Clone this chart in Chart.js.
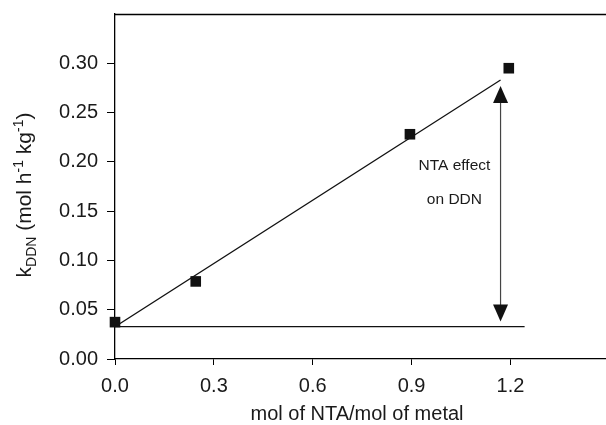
<!DOCTYPE html>
<html>
<head>
<meta charset="utf-8">
<script src="https://cdn.jsdelivr.net/npm/chart.js@4.4.1/dist/chart.umd.min.js"></script>
<style>
  html, body { margin: 0; padding: 0; background: #fff; }
  #wrap { width: 606px; height: 425px; position: relative; }
</style>
</head>
<body>
<div id="wrap"><canvas id="c" width="606" height="425"></canvas></div>
<script>
// Measured rate constants for DDN vs. NTA/metal molar ratio
const ntaRatio = [0.0, 0.245, 0.895, 1.195];
const kDDN = [0.0374, 0.0787, 0.228, 0.295];

// Linear fit through the measurements
const fitX = [0.0, 1.17];
const fitY = [0.0328, 0.283];

// Reference level (no NTA) drawn as a horizontal line
const baseX = [0.0, 1.243];
const baseY = [0.0328, 0.0328];

// Double arrow showing the NTA effect
const arrowX = 1.17;
const arrowTopY = 0.277;
const arrowBottomY = 0.038;
const noteLines = ["NTA effect", "on DDN"];
const noteX = [1.03, 1.03];
const noteY = [0.1964, 0.1618];

// Axis ranges and ticks
const xMin = 0, xMax = 1.49, xStep = 0.3, xLastTick = 1.2;
const yMin = 0, yMax = 0.35, yStep = 0.05, yLastTick = 0.30;

const xTitle = "mol of NTA/mol of metal";
const yTitleParts = [
  { t: "k", kind: "n" },
  { t: "DDN", kind: "sub" },
  { t: " (mol h", kind: "n" },
  { t: "-1", kind: "sup" },
  { t: " kg", kind: "n" },
  { t: "-1", kind: "sup" },
  { t: ")", kind: "n" }
];

const FONT = "'Liberation Sans', Arial, Helvetica, sans-serif";
const INK = "#1a1a1a";

const toXY = (xs, ys) => xs.map((x, i) => ({ x: x, y: ys[i] }));

const decorations = {
  id: "decorations",
  afterDatasetsDraw(chart) {
    const ctx = chart.ctx;
    const xs = chart.scales.x, ys = chart.scales.y;
    const area = chart.chartArea;
    ctx.save();

    // top frame line
    ctx.strokeStyle = "#000";
    ctx.lineWidth = 1.4;
    ctx.beginPath();
    ctx.moveTo(area.left, area.top + 0.5);
    ctx.lineTo(chart.width, area.top + 0.5);
    ctx.stroke();

    // double-headed arrow
    const ax = xs.getPixelForValue(arrowX);
    const yT = ys.getPixelForValue(arrowTopY);
    const yB = ys.getPixelForValue(arrowBottomY);
    const headL = 17, headW = 7.5;
    ctx.strokeStyle = "#444";
    ctx.lineWidth = 1.2;
    ctx.beginPath();
    ctx.moveTo(ax, yT + headL - 1);
    ctx.lineTo(ax, yB - headL + 1);
    ctx.stroke();
    ctx.fillStyle = "#111";
    ctx.beginPath();
    ctx.moveTo(ax, yT);
    ctx.lineTo(ax - headW, yT + headL);
    ctx.lineTo(ax + headW, yT + headL);
    ctx.closePath();
    ctx.fill();
    ctx.beginPath();
    ctx.moveTo(ax, yB);
    ctx.lineTo(ax - headW, yB - headL);
    ctx.lineTo(ax + headW, yB - headL);
    ctx.closePath();
    ctx.fill();

    // annotation text
    ctx.fillStyle = INK;
    ctx.font = "15.5px " + FONT;
    ctx.textAlign = "center";
    ctx.textBaseline = "middle";
    noteLines.forEach((s, i) => {
      ctx.fillText(s, xs.getPixelForValue(noteX[i]), ys.getPixelForValue(noteY[i]));
    });

    // x axis title
    ctx.font = "20px " + FONT;
    ctx.textAlign = "center";
    ctx.textBaseline = "middle";
    ctx.fillText(xTitle, 357, 414);

    // y axis title with sub/superscripts, rotated
    const mainF = "21px " + FONT, smallF = "14px " + FONT;
    let total = 0;
    yTitleParts.forEach(p => {
      ctx.font = p.kind === "n" ? mainF : smallF;
      p.w = ctx.measureText(p.t).width;
      total += p.w;
    });
    ctx.translate(31, 195 + total / 2);
    ctx.rotate(-Math.PI / 2);
    ctx.textAlign = "left";
    ctx.textBaseline = "alphabetic";
    let cx = 0;
    yTitleParts.forEach(p => {
      ctx.font = p.kind === "n" ? mainF : smallF;
      const dy = p.kind === "sub" ? 5 : (p.kind === "sup" ? -8 : 0);
      ctx.fillText(p.t, cx, dy);
      cx += p.w;
    });
    ctx.restore();
  }
};

new Chart(document.getElementById("c"), {
  data: {
    datasets: [
      {
        type: "scatter",
        data: toXY(ntaRatio, kDDN),
        pointStyle: "rect",
        pointRadius: 7.5,
        pointHoverRadius: 7.5,
        backgroundColor: "#111",
        borderWidth: 0,
        clip: false
      },
      {
        type: "line",
        data: toXY(fitX, fitY),
        borderColor: "#111",
        borderWidth: 1.3,
        pointRadius: 0,
        fill: false
      },
      {
        type: "line",
        data: toXY(baseX, baseY),
        borderColor: "#111",
        borderWidth: 1.3,
        pointRadius: 0,
        fill: false
      }
    ]
  },
  options: {
    responsive: false,
    animation: false,
    events: [],
    layout: { autoPadding: false, padding: { top: 14, left: 0, right: 0, bottom: 0 } },
    plugins: { legend: { display: false }, tooltip: { enabled: false } },
    scales: {
      x: {
        type: "linear",
        position: "bottom",
        min: xMin,
        max: xMax,
        afterBuildTicks: s => { s.ticks = s.ticks.filter(t => t.value <= xLastTick + 1e-9); },
        afterFit: s => { s.height = 66; s.paddingLeft = 0; s.paddingRight = 0; },
        ticks: {
          stepSize: xStep,
          autoSkip: false,
          maxRotation: 0,
          padding: 9,
          color: INK,
          font: { family: FONT, size: 20 },
          callback: v => Number(v).toFixed(1)
        },
        grid: { drawOnChartArea: false, drawTicks: true, tickLength: 6, color: "#000" },
        border: { display: true, color: "#000", width: 1.3 }
      },
      y: {
        type: "linear",
        position: "left",
        min: yMin,
        max: yMax,
        afterBuildTicks: s => { s.ticks = s.ticks.filter(t => t.value <= yLastTick + 1e-9); },
        afterFit: s => { s.width = 115; s.paddingTop = 0; s.paddingBottom = 0; },
        ticks: {
          stepSize: yStep,
          autoSkip: false,
          padding: 9,
          color: INK,
          font: { family: FONT, size: 20 },
          callback: v => Number(v).toFixed(2)
        },
        grid: { drawOnChartArea: false, drawTicks: true, tickLength: 8, color: "#000" },
        border: { display: true, color: "#000", width: 1.3 }
      }
    }
  },
  plugins: [decorations]
});
</script>
</body>
</html>
